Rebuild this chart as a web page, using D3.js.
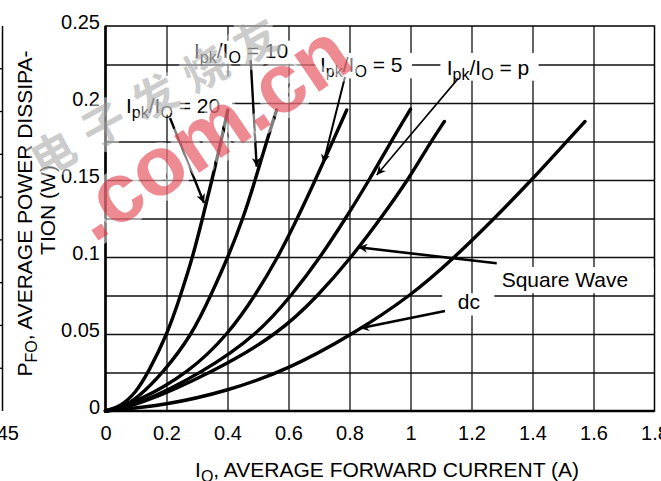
<!DOCTYPE html>
<html>
<head>
<meta charset="utf-8">
<script src="https://cdn.jsdelivr.net/npm/d3@7"></script>
<style>
  html, body { margin: 0; padding: 0; background: #fff; }
  svg { display: block; font-family: "Liberation Sans", Arial, sans-serif; }
</style>
</head>
<body>
<div id="chart"></div>
<script>
// curves: [I_O (A), P_FO (W)]
const seriesNames = ['Ipk/IO = 20', 'Ipk/IO = 10', 'Ipk/IO = 5', 'Ipk/IO = p', 'Square Wave', 'dc'];
const ratio20 = [[0, 0], [0.05, 0.003], [0.1, 0.012], [0.14, 0.025], [0.203, 0.05], [0.246, 0.075], [0.286, 0.1], [0.318, 0.125], [0.349, 0.15], [0.379, 0.175], [0.401, 0.1955]];
const ratio10 = [[0, 0], [0.05, 0.002], [0.1, 0.0075], [0.19, 0.025], [0.285, 0.05], [0.345, 0.075], [0.402, 0.1], [0.451, 0.125], [0.491, 0.15], [0.528, 0.175], [0.561, 0.1955]];
const ratio5 = [[0, 0], [0.1, 0.0055], [0.275, 0.025], [0.403, 0.05], [0.491, 0.075], [0.566, 0.1], [0.629, 0.125], [0.688, 0.15], [0.745, 0.175], [0.791, 0.1955]];
const ratioPi = [[0, 0], [0.1, 0.0035], [0.32, 0.025], [0.5, 0.05], [0.61, 0.075], [0.705, 0.1], [0.787, 0.125], [0.865, 0.15], [0.936, 0.175], [1.0, 0.196]];
const squareWave = [[0, 0], [0.1, 0.003], [0.35, 0.025], [0.567, 0.05], [0.698, 0.075], [0.807, 0.1], [0.902, 0.125], [0.992, 0.15], [1.067, 0.175], [1.111, 0.188]];
const dcCurve = [[0, 0], [0.2, 0.0038], [0.4, 0.013], [0.6, 0.027], [0.812, 0.05], [1.003, 0.075], [1.146, 0.1], [1.275, 0.125], [1.397, 0.15], [1.512, 0.175], [1.572, 0.188]];

const xTicks = [0, 0.2, 0.4, 0.6, 0.8, 1, 1.2, 1.4, 1.6, 1.8];
const xTickLabels = ['0', '0.2', '0.4', '0.6', '0.8', '1', '1.2', '1.4', '1.6', '1.8'];
const yTicks = [0, 0.05, 0.1, 0.15, 0.2, 0.25];
const yTickLabels = ['0', '0.05', '0.1', '0.15', '0.2', '0.25'];
const yGrid = [0.025, 0.05, 0.075, 0.1, 0.125, 0.15, 0.175, 0.2, 0.225];

const width = 661;
const height = 481;
const plotLeft = 105.5, plotRight = 654.5, plotTop = 26, plotBottom = 411;

const svg = d3.select('#chart').append('svg')
  .attr('width', width)
  .attr('height', height);

const x = d3.scaleLinear().domain([0, 1.8]).range([plotLeft, plotRight]);
const y = d3.scaleLinear().domain([0, 0.25]).range([plotBottom, plotTop]);

// neighbouring chart edge, cut off at the left
svg.append('line')
  .attr('x1', 2.5).attr('x2', 2.5).attr('y1', plotTop).attr('y2', plotBottom)
  .attr('stroke', '#000').attr('stroke-width', 1.5);
d3.range(1, 9).forEach(i => {
  const yy = plotTop + i * (plotBottom - plotTop) / 9;
  svg.append('line')
    .attr('x1', 0).attr('x2', 3).attr('y1', yy).attr('y2', yy)
    .attr('stroke', '#000').attr('stroke-width', 1.3);
});
svg.append('text')
  .attr('x', 19).attr('y', 440)
  .attr('text-anchor', 'end')
  .attr('font-size', 20)
  .text('45');

// grid
svg.append('g')
  .attr('transform', `translate(0,${plotBottom})`)
  .call(d3.axisBottom(x).tickValues(xTicks.slice(1, -1)).tickSize(-(plotBottom - plotTop)).tickFormat(''))
  .call(g => g.select('.domain').remove())
  .call(g => g.selectAll('.tick line').attr('stroke', '#111').attr('stroke-width', 1.3));

svg.append('g')
  .attr('transform', `translate(${plotLeft},0)`)
  .call(d3.axisLeft(y).tickValues(yGrid).tickSize(-(plotRight - plotLeft)).tickFormat(''))
  .call(g => g.select('.domain').remove())
  .call(g => g.selectAll('.tick line').attr('stroke', '#111').attr('stroke-width', 1.3));

// frame
svg.append('rect')
  .attr('x', plotLeft).attr('y', plotTop)
  .attr('width', plotRight - plotLeft).attr('height', plotBottom - plotTop)
  .attr('fill', 'none').attr('stroke', '#000').attr('stroke-width', 1.5);
svg.append('line')
  .attr('x1', plotLeft).attr('x2', plotLeft).attr('y1', plotTop).attr('y2', plotBottom + 1)
  .attr('stroke', '#000').attr('stroke-width', 2.6);
svg.append('line')
  .attr('x1', plotLeft).attr('x2', plotRight).attr('y1', plotBottom).attr('y2', plotBottom)
  .attr('stroke', '#000').attr('stroke-width', 2.6);

// tick labels
svg.append('g')
  .attr('transform', `translate(0,${plotBottom})`)
  .call(d3.axisBottom(x).tickValues(xTicks).tickSize(0).tickFormat((d, i) => xTickLabels[i]))
  .call(g => g.select('.domain').remove())
  .call(g => g.selectAll('text')
    .attr('y', 29).attr('dy', 0)
    .attr('fill', '#000')
    .attr('font-size', 20)
    .attr('font-family', '"Liberation Sans", Arial, sans-serif'));

svg.append('g')
  .attr('transform', `translate(${plotLeft},0)`)
  .call(d3.axisLeft(y).tickValues(yTicks).tickSize(0).tickFormat((d, i) => yTickLabels[i]))
  .call(g => g.select('.domain').remove())
  .call(g => g.selectAll('text')
    .attr('x', -5.5).attr('dy', 2.5)
    .attr('fill', '#000')
    .attr('font-size', 20)
    .attr('font-family', '"Liberation Sans", Arial, sans-serif'));

// axis titles
const xTitle = svg.append('text')
  .attr('x', 387).attr('y', 477)
  .attr('text-anchor', 'middle')
  .attr('font-size', 21);
xTitle.append('tspan').text('I');
xTitle.append('tspan').attr('font-size', 16).attr('dy', 5).text('O');
xTitle.append('tspan').attr('dy', -5).text(', AVERAGE FORWARD CURRENT (A)');

const yTitle = svg.append('text')
  .attr('transform', 'translate(31.5,213.5) rotate(-90)')
  .attr('text-anchor', 'middle')
  .attr('font-size', 21);
yTitle.append('tspan').text('P');
yTitle.append('tspan').attr('font-size', 16).attr('dy', 5).text('FO');
yTitle.append('tspan').attr('dy', -5).text(', AVERAGE POWER DISSIPA-');

svg.append('text')
  .attr('transform', 'translate(55,210) rotate(-90)')
  .attr('text-anchor', 'middle')
  .attr('font-size', 21)
  .text('TION (W)');

// label boxes break the grid
const boxes = [
  [0.0, 0.2175, 0.415, 0.1925],
  [0.278, 0.2405, 0.661, 0.2255],
  [0.688, 0.2325, 1.005, 0.216],
  [1.098, 0.2325, 1.42, 0.2145],
  [1.29, 0.0935, 1.81, 0.0765],
  [1.104, 0.0765, 1.275, 0.062]
];
svg.selectAll('rect.box')
  .data(boxes)
  .enter()
  .append('rect')
  .attr('class', 'box')
  .attr('x', d => x(d[0]) + (d[0] === 0 ? 1.5 : 0))
  .attr('y', d => y(d[1]))
  .attr('width', d => Math.min(x(d[2]), plotRight - 1) - x(d[0]) - (d[0] === 0 ? 1.5 : 0))
  .attr('height', d => y(d[3]) - y(d[1]))
  .attr('fill', '#fff');

// curves (basis spline smooths the reading noise)
const line = d3.line()
  .x(d => x(d[0]))
  .y(d => y(d[1]))
  .curve(d3.curveBasis);

svg.selectAll('path.curve')
  .data([ratio20, ratio10, ratio5, ratioPi, squareWave, dcCurve])
  .enter()
  .append('path')
  .attr('class', 'curve')
  .attr('d', line)
  .attr('fill', 'none')
  .attr('stroke', '#000')
  .attr('stroke-width', 3.4)
  .attr('stroke-linecap', 'round')
  .attr('stroke-linejoin', 'round');

// annotations
const defs = svg.append('defs');
defs.append('marker')
  .attr('id', 'head')
  .attr('viewBox', '0 0 10 10')
  .attr('refX', 10).attr('refY', 5)
  .attr('markerUnits', 'userSpaceOnUse')
  .attr('markerWidth', 15).attr('markerHeight', 9)
  .attr('orient', 'auto')
  .append('path')
  .attr('d', 'M0,0 L10,5 L0,10 L3,5 Z')
  .attr('fill', '#000');

const notes = [
  { name: seriesNames[0], at: [0.0672, 0.1935], from: [0.2115, 0.1903], to: [0.323, 0.1351], w: 2.4 },
  { name: seriesNames[1], at: [0.2902, 0.2292], from: [0.476, 0.2279], to: [0.4957, 0.1586], w: 2.4 },
  { name: seriesNames[2], at: [0.7033, 0.2201], from: [0.7852, 0.2169], to: [0.7141, 0.1608], w: 2 },
  { name: seriesNames[3], at: [1.1187, 0.2182], from: [1.1567, 0.216], to: [0.8892, 0.1532], w: 1.6 },
  { name: seriesNames[4], at: [1.299, 0.0807], from: [1.2826, 0.0959], to: [0.8289, 0.1063], w: 2.6 },
  { name: seriesNames[5], at: [1.1548, 0.066], from: [1.1131, 0.0649], to: [0.8344, 0.0537], w: 2.6 }
];

notes.forEach(n => {
  svg.append('line')
    .attr('x1', x(n.from[0])).attr('y1', y(n.from[1]))
    .attr('x2', x(n.to[0])).attr('y2', y(n.to[1]))
    .attr('stroke', '#000')
    .attr('stroke-width', n.w)
    .attr('marker-end', 'url(#head)');

  const t = svg.append('text')
    .attr('x', x(n.at[0])).attr('y', y(n.at[1]))
    .attr('font-size', 21);
  const m = n.name.match(/^Ipk\/IO = (.*)$/);
  if (m) {
    t.append('tspan').text('I');
    t.append('tspan').attr('font-size', 16).attr('dy', 5).text('pk');
    t.append('tspan').attr('dy', -5).text('/I');
    t.append('tspan').attr('font-size', 16).attr('dy', 5).text('O');
    t.append('tspan').attr('dy', -5).text(' = ' + m[1]);
  } else {
    t.text(n.name);
  }
});

// watermark
const wm = svg.append('g').attr('pointer-events', 'none');
wm.append('text')
  .attr('transform', 'translate(161,94) rotate(-29)')
  .attr('text-anchor', 'middle')
  .attr('dy', '0.36em')
  .attr('font-family', '"Noto Sans CJK SC", sans-serif')
  .attr('font-weight', 700)
  .attr('font-size', 44)
  .attr('letter-spacing', 14)
  .attr('fill', '#999')
  .attr('fill-opacity', 0.5)
  .attr('stroke', '#fff')
  .attr('stroke-opacity', 0.45)
  .attr('stroke-width', 10)
  .attr('stroke-linejoin', 'round')
  .attr('paint-order', 'stroke')
  .text('电子发烧友');

wm.append('text')
  .attr('transform', 'translate(213,137) rotate(-34)')
  .attr('text-anchor', 'middle')
  .attr('dy', '0.26em')
  .attr('font-family', '"Liberation Sans", Arial, sans-serif')
  .attr('font-weight', 'bold')
  .attr('font-size', 84)
  .attr('fill', '#e02a36')
  .attr('fill-opacity', 0.55)
  .attr('stroke', '#fff')
  .attr('stroke-opacity', 0.5)
  .attr('stroke-width', 12)
  .attr('stroke-linejoin', 'round')
  .attr('paint-order', 'stroke')
  .text('.com.cn');
</script>
</body>
</html>
